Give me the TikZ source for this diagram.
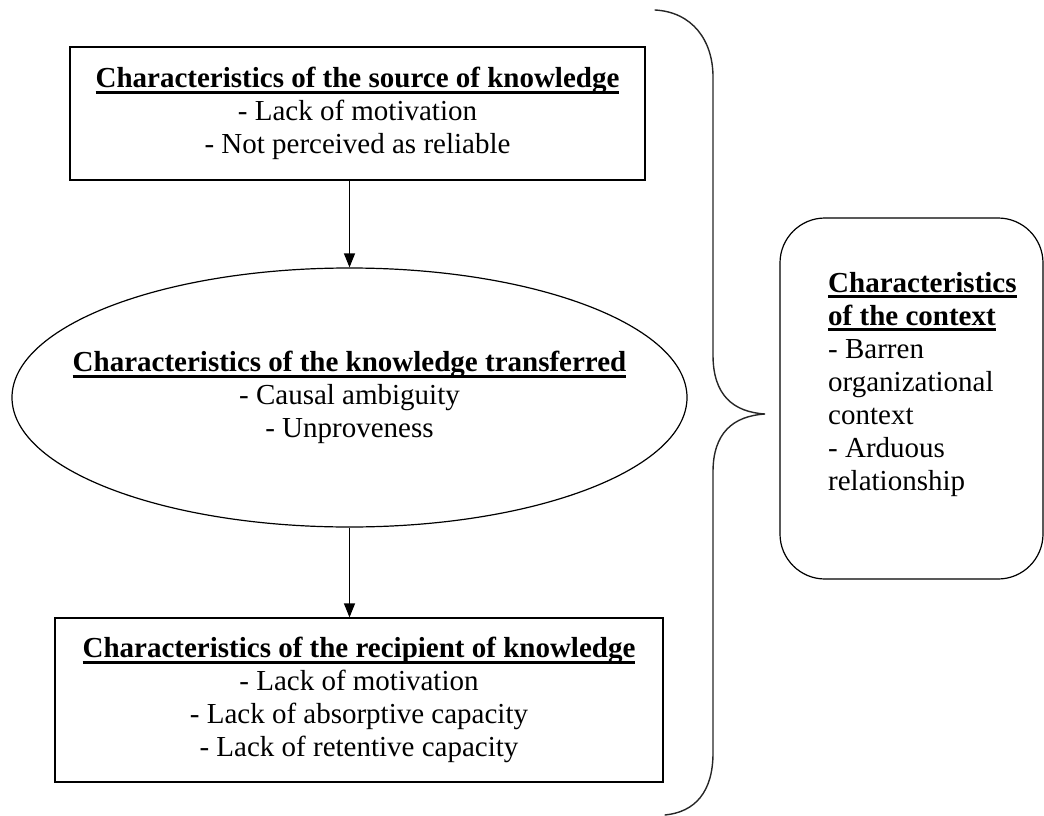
\documentclass[tikz,border=0pt]{standalone}
\usepackage{fontspec}
\setmainfont{Liberation Serif}
\usetikzlibrary{arrows.meta,shapes.geometric}
% bold heading with a heavy underline
\newsavebox\ulbox
\newcommand\ulin[1]{\sbox\ulbox{#1}\rlap{\rule[-6pt]{\wd\ulbox}{3pt}}\usebox\ulbox}
\begin{document}
\begin{tikzpicture}[x=1pt,y=-1pt,
  txt/.style={font=\fontsize{29}{33}\selectfont, align=center, inner sep=0pt},
  frame/.style={draw, line width=1.2pt, inner sep=0pt},
  link/.style={line width=1.2pt, -{Triangle[length=14pt,width=11pt]}},
  bracestyle/.style={draw=black!85, line width=1.4pt, line cap=round},
]
\useasboundingbox (0,0) rectangle (1044,816);

% source of knowledge
\node[frame, minimum width=575pt, minimum height=133pt] (src) at (357.5,113.5) {};
\node[txt] (srctxt) at (src.center) {\ulin{\textbf{Characteristics of the source of knowledge}}\\
  - Lack of motivation\\- Not perceived as reliable};

% knowledge transferred
\node[frame, ellipse, minimum width=675pt, minimum height=259pt] (kn) at (349.5,397.5) {};
\node[txt] (kntxt) at (kn.center) {\ulin{\textbf{Characteristics of the knowledge transferred}}\\
  - Causal ambiguity\\- Unproveness};

% recipient of knowledge
\node[frame, minimum width=608pt, minimum height=164pt] (rcp) at (359,700) {};
\node[txt] (rcptxt) at (rcp.center) {\ulin{\textbf{Characteristics of the recipient of knowledge}}\\
  - Lack of motivation\\- Lack of absorptive capacity\\- Lack of retentive capacity};

% flow arrows
\draw[link] (src.south -| kn.north) -- (kn.north);
\draw[link] (kn.south) -- (kn.south |- rcp.north);

% curly brace
\coordinate (btop) at (655,10);
\coordinate (btip) at (765,414);
\coordinate (bbot) at (665,815);
\draw[bracestyle] (btop) .. controls (692,12) and (713,40) .. (713,77)
  -- (713,355) .. controls (713,395) and (733,412) .. (btip)
  .. controls (733,416) and (713,433) .. (713,472)
  -- (713,753) .. controls (713,792) and (695,812) .. (bbot);

% context
\node[frame, rounded corners=45pt, minimum width=263pt, minimum height=361pt] (ctx) at (911.5,398.5) {};
\node[txt, align=left, anchor=north west] (ctxtxt) at (828,272) {\ulin{\textbf{Characteristics}}\\
  \ulin{\textbf{of the context}}\\- Barren\\organizational\\context\\- Arduous\\relationship};
\end{tikzpicture}
\end{document}
